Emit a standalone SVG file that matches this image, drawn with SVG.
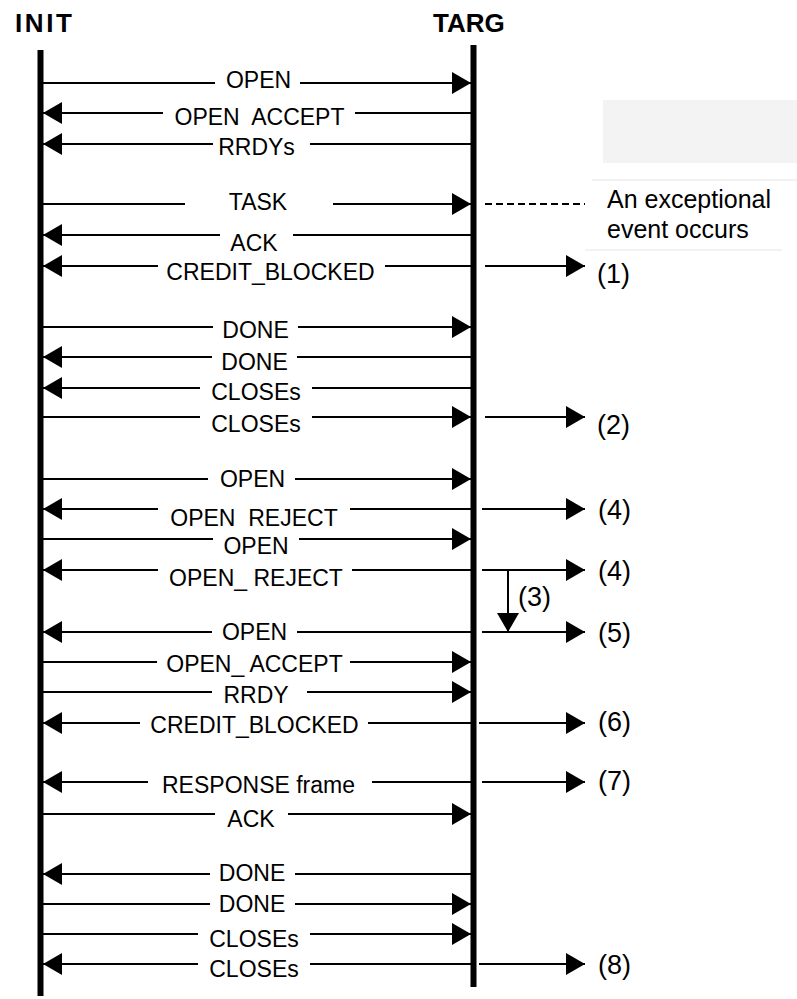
<svg xmlns="http://www.w3.org/2000/svg" width="797" height="999" viewBox="0 0 797 999">
<defs>
<marker id="ah" markerUnits="userSpaceOnUse" markerWidth="20" markerHeight="22" refX="19" refY="11" orient="auto">
<path d="M0,0 L19,11 L0,22 z" fill="#000"/>
</marker>
<style>
.msg{stroke:#000;stroke-width:2;fill:none}
.life{stroke:#000;stroke-width:6}
.lbl{font-family:"Liberation Sans",Arial,sans-serif;font-size:23px;fill:#000;text-anchor:middle;white-space:pre}
.ref{font-family:"Liberation Sans",Arial,sans-serif;font-size:27px;fill:#000}
.title{font-family:"Liberation Sans",Arial,sans-serif;font-size:26px;font-weight:bold;fill:#000}
.note{font-family:"Liberation Sans",Arial,sans-serif;font-size:25px;fill:#000}
</style>
</defs>
<rect width="797" height="999" fill="#fff"/>
<rect x="603" y="100" width="194" height="63" fill="#f3f3f3"/>
<line x1="592" y1="180" x2="797" y2="180" stroke="#eeeeee" stroke-width="1.5"/>
<line x1="585" y1="250" x2="782" y2="250" stroke="#eeeeee" stroke-width="1.5"/>

<g id="INIT">
<text class="title" x="15" y="32" textLength="57" lengthAdjust="spacing">INIT</text>
<line class="life" x1="40.5" y1="50" x2="40.5" y2="996"/>
</g>
<g id="TARG">
<text class="title" x="433" y="32">TARG</text>
<line class="life" x1="473.5" y1="45" x2="473.5" y2="987"/>
</g>
<g id="event-note">
<text class="note" x="607" y="208">An exceptional</text>
<text class="note" x="607" y="238">event occurs</text>
</g>

<g id="connectors">
<line class="msg" x1="43" y1="83" x2="215" y2="83"/><line class="msg" x1="300" y1="83" x2="471" y2="83" marker-end="url(#ah)"/>
<line class="msg" x1="163" y1="113" x2="43" y2="113" marker-end="url(#ah)"/><line class="msg" x1="355" y1="113" x2="471" y2="113"/>
<line class="msg" x1="213" y1="144" x2="43" y2="144" marker-end="url(#ah)"/><line class="msg" x1="310" y1="144" x2="471" y2="144"/>
<line class="msg" x1="43" y1="204" x2="185" y2="204"/><line class="msg" x1="333" y1="204" x2="471" y2="204" marker-end="url(#ah)"/>
<line class="msg" x1="220" y1="235" x2="43" y2="235" marker-end="url(#ah)"/><line class="msg" x1="293" y1="235" x2="471" y2="235"/>
<line class="msg" x1="158" y1="266" x2="43" y2="266" marker-end="url(#ah)"/><line class="msg" x1="385" y1="266" x2="471" y2="266"/>
<line class="msg" x1="43" y1="327" x2="213" y2="327"/><line class="msg" x1="298" y1="327" x2="471" y2="327" marker-end="url(#ah)"/>
<line class="msg" x1="212" y1="357" x2="43" y2="357" marker-end="url(#ah)"/><line class="msg" x1="297" y1="357" x2="471" y2="357"/>
<line class="msg" x1="200" y1="388" x2="43" y2="388" marker-end="url(#ah)"/><line class="msg" x1="312" y1="388" x2="471" y2="388"/>
<line class="msg" x1="43" y1="417" x2="200" y2="417"/><line class="msg" x1="312" y1="417" x2="471" y2="417" marker-end="url(#ah)"/>
<line class="msg" x1="43" y1="479" x2="208" y2="479"/><line class="msg" x1="295" y1="479" x2="471" y2="479" marker-end="url(#ah)"/>
<line class="msg" x1="158" y1="509" x2="43" y2="509" marker-end="url(#ah)"/><line class="msg" x1="350" y1="509" x2="471" y2="509"/>
<line class="msg" x1="43" y1="539" x2="213" y2="539"/><line class="msg" x1="299" y1="539" x2="471" y2="539" marker-end="url(#ah)"/>
<line class="msg" x1="158" y1="570" x2="43" y2="570" marker-end="url(#ah)"/><line class="msg" x1="352" y1="570" x2="471" y2="570"/>
<line class="msg" x1="212" y1="632" x2="43" y2="632" marker-end="url(#ah)"/><line class="msg" x1="297" y1="632" x2="471" y2="632"/>
<line class="msg" x1="43" y1="662" x2="157" y2="662"/><line class="msg" x1="350" y1="662" x2="471" y2="662" marker-end="url(#ah)"/>
<line class="msg" x1="43" y1="692" x2="212" y2="692"/><line class="msg" x1="307" y1="692" x2="471" y2="692" marker-end="url(#ah)"/>
<line class="msg" x1="140" y1="723" x2="43" y2="723" marker-end="url(#ah)"/><line class="msg" x1="368" y1="723" x2="471" y2="723"/>
<line class="msg" x1="148" y1="782" x2="43" y2="782" marker-end="url(#ah)"/><line class="msg" x1="372" y1="782" x2="471" y2="782"/>
<line class="msg" x1="43" y1="814" x2="215" y2="814"/><line class="msg" x1="288" y1="814" x2="471" y2="814" marker-end="url(#ah)"/>
<line class="msg" x1="210" y1="874" x2="43" y2="874" marker-end="url(#ah)"/><line class="msg" x1="295" y1="874" x2="471" y2="874"/>
<line class="msg" x1="43" y1="904" x2="210" y2="904"/><line class="msg" x1="295" y1="904" x2="471" y2="904" marker-end="url(#ah)"/>
<line class="msg" x1="43" y1="934" x2="198" y2="934"/><line class="msg" x1="310" y1="934" x2="471" y2="934" marker-end="url(#ah)"/>
<line class="msg" x1="198" y1="964" x2="43" y2="964" marker-end="url(#ah)"/><line class="msg" x1="310" y1="964" x2="471" y2="964"/>

<line class="msg" x1="485" y1="204" x2="585" y2="204" stroke-dasharray="7,4"/>
<line class="msg" x1="485" y1="266" x2="585" y2="266" marker-end="url(#ah)"/>
<line class="msg" x1="485" y1="417" x2="585" y2="417" marker-end="url(#ah)"/>
<line class="msg" x1="482" y1="509" x2="585" y2="509" marker-end="url(#ah)"/>
<line class="msg" x1="482" y1="570" x2="585" y2="570" marker-end="url(#ah)"/>
<line class="msg" x1="508" y1="570" x2="508" y2="632" marker-end="url(#ah)"/>
<line class="msg" x1="482" y1="632" x2="585" y2="632" marker-end="url(#ah)"/>
<line class="msg" x1="479" y1="723" x2="585" y2="723" marker-end="url(#ah)"/>
<line class="msg" x1="482" y1="782" x2="585" y2="782" marker-end="url(#ah)"/>
<line class="msg" x1="479" y1="964" x2="585" y2="964" marker-end="url(#ah)"/>
</g>

<g id="labels">
<text class="lbl" x="258.5" y="88">OPEN</text>
<text class="lbl" x="259.5" y="125" xml:space="preserve">OPEN  ACCEPT</text>
<text class="lbl" x="256.5" y="155">RRDYs</text>
<text class="lbl" x="258" y="210">TASK</text>
<text class="lbl" x="254" y="251">ACK</text>
<text class="lbl" x="270.5" y="280">CREDIT_BLOCKED</text>
<text class="lbl" x="255.5" y="338">DONE</text>
<text class="lbl" x="254.5" y="370">DONE</text>
<text class="lbl" x="256" y="400">CLOSEs</text>
<text class="lbl" x="256" y="432">CLOSEs</text>
<text class="lbl" x="252.5" y="487">OPEN</text>
<text class="lbl" x="254" y="526" xml:space="preserve">OPEN  REJECT</text>
<text class="lbl" x="256" y="554">OPEN</text>
<text class="lbl" x="256" y="586" xml:space="preserve">OPEN_ REJECT</text>
<text class="lbl" x="254.5" y="640">OPEN</text>
<text class="lbl" x="254.5" y="672" xml:space="preserve">OPEN_ ACCEPT</text>
<text class="lbl" x="256" y="703">RRDY</text>
<text class="lbl" x="254.5" y="733">CREDIT_BLOCKED</text>
<text class="lbl" x="258.5" y="793">RESPONSE frame</text>
<text class="lbl" x="251" y="827">ACK</text>
<text class="lbl" x="252" y="881">DONE</text>
<text class="lbl" x="252" y="912">DONE</text>
<text class="lbl" x="254" y="947">CLOSEs</text>
<text class="lbl" x="254" y="977">CLOSEs</text>

<text class="ref" x="597" y="283">(1)</text>
<text class="ref" x="597" y="434">(2)</text>
<text class="ref" x="598" y="519">(4)</text>
<text class="ref" x="598" y="580">(4)</text>
<text class="ref" x="518" y="606">(3)</text>
<text class="ref" x="598" y="642">(5)</text>
<text class="ref" x="598" y="731">(6)</text>
<text class="ref" x="598" y="790">(7)</text>
<text class="ref" x="598" y="974">(8)</text>
</g>
</svg>
